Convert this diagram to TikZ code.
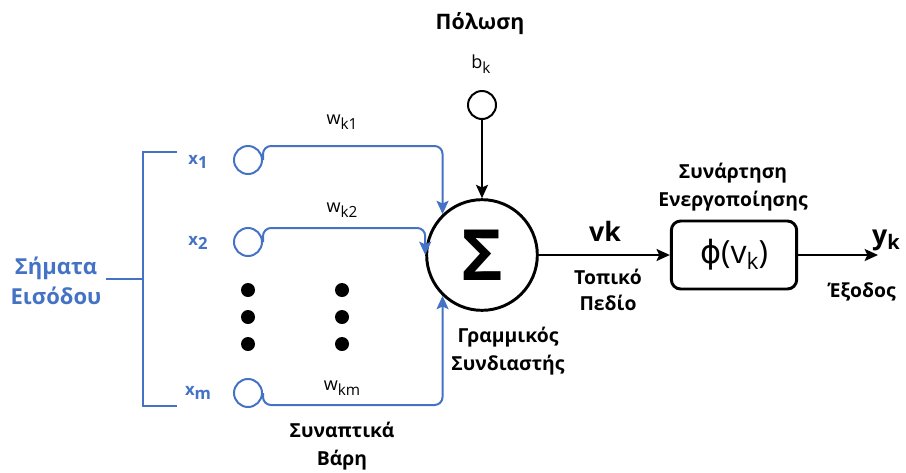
\documentclass[tikz,border=0pt]{standalone}
\usepackage{fontspec}
\setmainfont{Open Sans}
\newfontfamily\phifont{DejaVu Sans}
\usetikzlibrary{arrows.meta}
\definecolor{inblue}{RGB}{68,114,196}
\newcommand{\lowsub}[2][3pt]{\raisebox{-#1}{#2}}
\tikzset{
  arr/.style={-{Stealth[length=10pt,width=9pt,inset=2pt]}, line width=1.5pt},
  syn/.style={arr, inblue, rounded corners=6pt},
  incirc/.style={circle, draw=inblue, line width=1.5pt, minimum size=21pt, inner sep=0pt},
  lbl/.style={font=\fontsize{14.5}{20.5}\selectfont\bfseries, align=center},
  inlbl/.style={inblue, font=\fontsize{12.5}{14}\selectfont\bfseries},
  wlbl/.style={font=\fontsize{13.5}{16}\selectfont},
}
\begin{document}
\begin{tikzpicture}[x=0.75pt, y=-0.75pt]
\useasboundingbox (0,0) rectangle (906,472);

% summing junction and bias
\node [circle, draw, line width=2.2pt, minimum size=83pt, inner sep=0pt] (sum) at (482,255)
      {\fontsize{53}{53}\selectfont\bfseries Σ};
\node [circle, draw, line width=1.5pt, minimum size=21pt, inner sep=0pt] (bias) at (482,105) {};
\node [wlbl] (bk) at (481,64) {b\lowsub[4pt]{\fontsize{11.5}{13}\selectfont k}};
\node [lbl, font=\fontsize{16}{20}\selectfont\bfseries] (pol) at (480,24) {Πόλωση};
\draw [arr] (bias) to (sum);
\node [lbl] (comb) at (508,351) {Γραμμικός\\Συνδιαστής};

% inputs
\node [incirc] (in1) at (248,160) {};
\node [incirc] (in2) at (248,242) {};
\node [incirc] (inm) at (248,393) {};
\node [inlbl] (x1) at (198,162) {x\lowsub[2.5pt]{1}};
\node [inlbl] (x2) at (198,243) {x\lowsub[2.5pt]{2}};
\node [inlbl] (xm) at (198,393) {x\lowsub[2.5pt]{m}};
\node [lbl, inblue, font=\fontsize{16.5}{22}\selectfont\bfseries] (sig) at (56,281) {Σήματα\\Εισόδου};
\coordinate (brk) at (143,279);
\draw [inblue, line width=1.5pt] (177,152) -| (143,406) -- (177,406);
\draw [inblue, line width=1.5pt] (sig.east |- brk) -- (brk);

% dots
\foreach \y in {290,317,344} {
  \fill (248,\y) circle (7);
  \fill (342,\y) circle (7);
}

% weights
\draw [syn] (in1.east) -- ++(0,-14) -| (sum.134);
\draw [syn] (in2.east) -- ++(0,-14) -| (sum.west);
\draw [syn] (inm.east) -- ++(0,12) -| (sum.226);
\node [wlbl] (w1) at (342,122) {w\lowsub[4pt]{\fontsize{11.5}{13}\selectfont k1}};
\node [wlbl] (w2) at (342,210) {w\lowsub[4pt]{\fontsize{11.5}{13}\selectfont k2}};
\node [wlbl] (wm) at (342,388) {w\lowsub[4pt]{\fontsize{11.5}{13}\selectfont km}};
\node [lbl] (wts) at (342,446) {Συναπτικά\\Βάρη};

% activation and output
\node [draw, line width=2.2pt, rounded corners=7pt, minimum width=94pt, minimum height=51pt] (act) at (734,255)
      {\fontsize{24}{26}\selectfont{\phifont ϕ}(v\lowsub[4pt]{\fontsize{17}{19}\selectfont k})};
\node [lbl] (actl) at (733,187) {Συνάρτηση\\Ενεργοποίησης};
\draw [arr] (sum) to (act);
\node [font=\fontsize{20}{22}\selectfont\bfseries] (vk) at (605,231) {vk};
\node [lbl, font=\fontsize{14.5}{19.5}\selectfont\bfseries] (loc) at (608,290) {Τοπικό\\Πεδίο};
\coordinate (yend) at (878,255);
\draw [arr] (act) to (yend);
\node [font=\fontsize{20}{22}\selectfont\bfseries] (yk) at (886,240) {y\lowsub[4pt]{\fontsize{15}{17}\selectfont k}};
\node [lbl] (outl) at (862,292) {Έξοδος};
\end{tikzpicture}
\end{document}
